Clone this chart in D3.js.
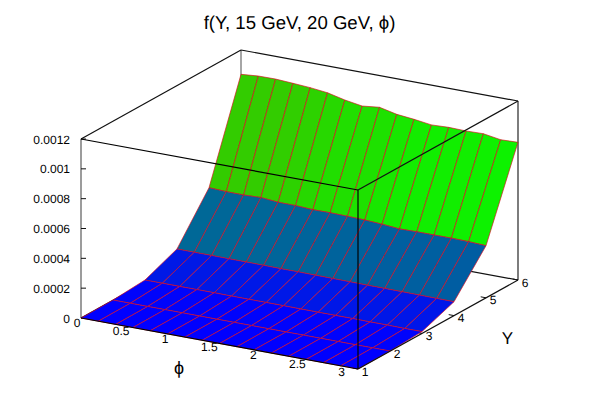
<!DOCTYPE html>
<html><head><meta charset="utf-8">
<script src="https://cdnjs.cloudflare.com/ajax/libs/d3/7.8.5/d3.min.js"></script>
<style>html,body{margin:0;background:#fff}text{font-family:"Liberation Sans",Arial,sans-serif;fill:#000;text-rendering:geometricPrecision}</style>
</head><body><svg id="c" width="599" height="420"></svg>
<script>
const titleText = "f(Y, 15 GeV, 20 GeV, \u03D5)";
const phiLabel = "\u03D5";
const yLabel = "Y";
const phiGrid = [0,0.196,0.393,0.589,0.785,0.982,1.178,1.374,1.571,1.767,1.963,2.160,2.356,2.553,2.749,2.945,3.1416];
const yGrid = [1,2,3,4,5,6];
const zAtY1 = [0,0,0,0,0,0,0,0,0,0,0,0,0,0,0,0,0];
const zAtY2 = [1e-6,1e-6,1e-6,1e-6,1e-6,1e-6,1e-6,1e-6,1e-6,1e-6,1e-6,1e-6,1e-6,1e-6,1e-6,1e-6,1e-6];
const zAtY3 = [16e-6,16e-6,16e-6,16e-6,16e-6,15e-6,15e-6,15e-6,15e-6,14e-6,14e-6,14e-6,14e-6,13e-6,13e-6,12e-6,12e-6];
const zAtY4 = [105e-6,104e-6,104e-6,103e-6,103e-6,102e-6,101e-6,101e-6,100e-6,99e-6,98e-6,97e-6,97e-6,96e-6,95e-6,94e-6,93e-6];
const zAtY5 = [396e-6,391e-6,390e-6,394e-6,384e-6,383e-6,377e-6,378e-6,375e-6,372e-6,365e-6,355e-6,357e-6,357e-6,357e-6,355e-6,349e-6];
const zAtY6 = [1037e-6,1047e-6,1048e-6,1041e-6,1033e-6,1020e-6,993e-6,974e-6,987e-6,961e-6,949e-6,933e-6,938e-6,935e-6,938e-6,919e-6,923e-6];
const zRows = [zAtY1,zAtY2,zAtY3,zAtY4,zAtY5,zAtY6];
const zTicks = [0,0.0002,0.0004,0.0006,0.0008,0.001,0.0012];
const zTickLabels = ["0","0.0002","0.0004","0.0006","0.0008","0.001","0.0012"];
const phiTicks = [0,0.5,1,1.5,2,2.5,3];
const yTicks = [1,2,3,4,5,6];
const paletteStops = [0,0.00061,0.00115];
const paletteColors = ["#0000ff","#00ff00","#ff0000"];

const svg = d3.select("#c");
const phiMax = 3.1416, zMax = 0.0012;
// oblique projection: each data axis adds its own screen offset
const phiToX = d3.scaleLinear().domain([0,phiMax]).range([0,277]);
const phiToY = d3.scaleLinear().domain([0,phiMax]).range([0,51]);
const yToX = d3.scaleLinear().domain([1,6]).range([81,241]);
const yToY = d3.scaleLinear().domain([1,6]).range([318,229]);
const zToY = d3.scaleLinear().domain([0,zMax]).range([0,-179]);
const px = (phi,Y) => phiToX(phi)+yToX(Y);
const py = (phi,Y,z) => phiToY(phi)+yToY(Y)+zToY(z);
const pal = d3.scaleLinear().domain(paletteStops).range(paletteColors).interpolate(d3.interpolateRgb);

function seg(g,a,b,color,w){
  g.append("line").attr("x1",px(a[0],a[1])).attr("y1",py(a[0],a[1],a[2]))
   .attr("x2",px(b[0],b[1])).attr("y2",py(b[0],b[1],b[2]))
   .attr("stroke",color).attr("stroke-width",w);
}
const back = svg.append("g");
seg(back,[0,1,0],[0,1,zMax],"#5a5a5a",1.2);
seg(back,[0,6,0],[0,6,zMax],"#808080",1.4);
seg(back,[phiMax,6,0],[phiMax,6,zMax],"#111",1.1);
seg(back,[0,1,zMax],[0,6,zMax],"#111",1.2);
seg(back,[0,6,zMax],[phiMax,6,zMax],"#111",1.2);
seg(back,[0,6,0],[phiMax,6,0],"#111",1.2);
seg(back,[0,1,0],[0,6,0],"#111",1.2);
zTicks.forEach(z=>{
  back.append("line").attr("x1",px(0,1)).attr("x2",px(0,1)+5)
    .attr("y1",py(0,1,z)).attr("y2",py(0,1,z)).attr("stroke","#111").attr("stroke-width",1);
});
yTicks.forEach(Y=>seg(back,[phiMax-0.06,Y,0],[phiMax,Y,0],"#111",1));

// surface: back rows first, each cell coloured by the mean of its corners
const surf = svg.append("g");
for(let r=yGrid.length-2;r>=0;r--){
  for(let j=0;j<phiGrid.length-1;j++){
    const c=[[j,r],[j+1,r],[j+1,r+1],[j,r+1]];
    const zs=c.map(([a,b])=>zRows[b][a]);
    surf.append("polygon")
      .attr("points",c.map(([a,b])=>px(phiGrid[a],yGrid[b])+","+py(phiGrid[a],yGrid[b],zRows[b][a])).join(" "))
      .attr("fill",pal(d3.mean(zs)))
      .attr("stroke","#dc0a1e").attr("stroke-width",0.65).attr("stroke-linejoin","round");
  }
}
const front = svg.append("g");
seg(front,[0,1,0],[phiMax,1,0],"#000",1.2);
seg(front,[phiMax,1,0],[phiMax,6,0],"#111",1.2);
seg(front,[phiMax,1,0],[phiMax,1,zMax],"#000",1.2);
seg(front,[0,1,zMax],[phiMax,1,zMax],"#000",1.2);
seg(front,[phiMax,1,zMax],[phiMax,6,zMax],"#111",1.2);

const labels = svg.append("g").attr("font-size",12);
zTicks.forEach((z,i)=>labels.append("text").attr("text-anchor","end")
  .attr("x",px(0,1)-11).attr("y",py(0,1,z)+4.5).text(zTickLabels[i]));
phiTicks.forEach(p=>labels.append("text").attr("text-anchor","middle")
  .attr("x",px(p,1)-4).attr("y",py(p,1,0)+9).text(p));
yTicks.forEach(Y=>labels.append("text").attr("text-anchor","middle")
  .attr("x",px(phiMax,Y)+7).attr("y",py(phiMax,Y,0)+6.5).text(Y));
svg.append("text").attr("x",299.5).attr("y",29).attr("text-anchor","middle").attr("font-size",18.6).text(titleText);
svg.append("text").attr("x",179).attr("y",374).attr("text-anchor","middle").attr("font-size",18).text(phiLabel);
svg.append("text").attr("x",507.5).attr("y",344).attr("text-anchor","middle").attr("font-size",17).text(yLabel);
</script></body></html>
